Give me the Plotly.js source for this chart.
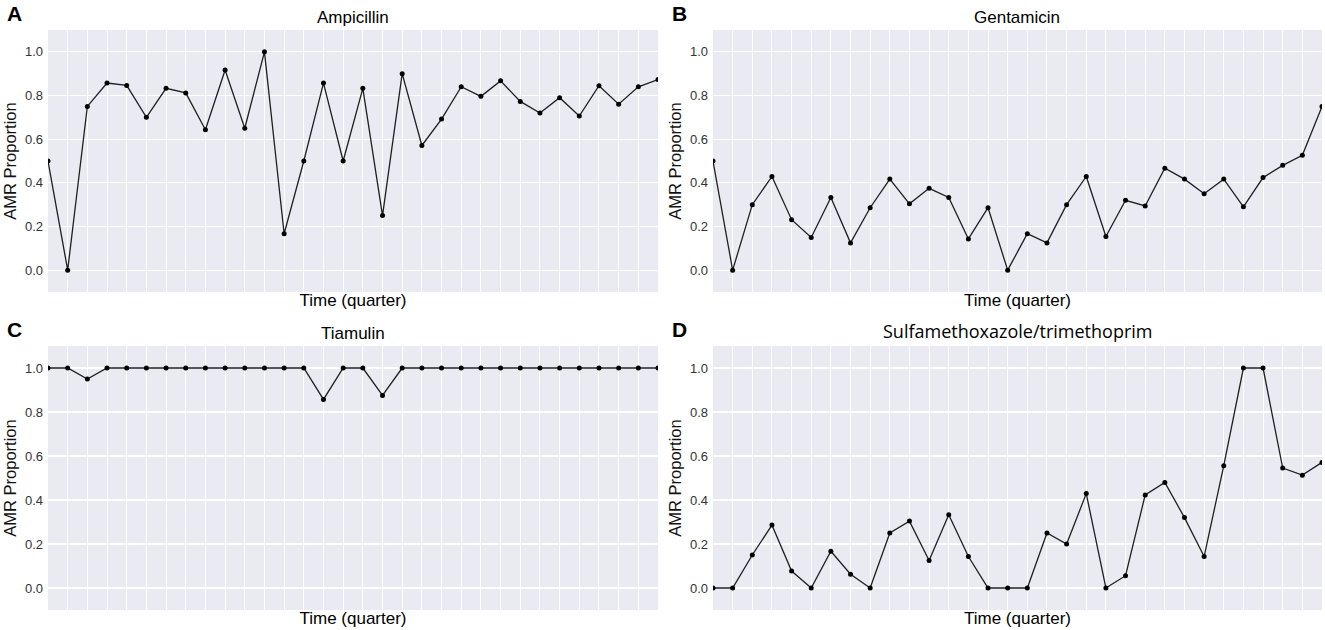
<!DOCTYPE html>
<html>
<head>
<meta charset="utf-8">
<script src="https://cdn.plot.ly/plotly-3.0.1.min.js"></script>
<style>
  html, body { margin: 0; padding: 0; background: #ffffff; }
  #chart { width: 1325px; height: 630px; }
</style>
</head>
<body>
<div id="chart"></div>
<script>
// Quarter index (32 quarters)
var quarters = [0, 1, 2, 3, 4, 5, 6, 7, 8, 9, 10, 11, 12, 13, 14, 15,
                16, 17, 18, 19, 20, 21, 22, 23, 24, 25, 26, 27, 28, 29, 30, 31];

var ampicillin = [0.5, 0.0, 0.75, 0.857, 0.846, 0.7, 0.833, 0.812, 0.643, 0.917,
                  0.65, 1.0, 0.167, 0.5, 0.857, 0.5, 0.833, 0.25, 0.9, 0.571,
                  0.692, 0.84, 0.796, 0.867, 0.773, 0.72, 0.79, 0.706, 0.845, 0.76,
                  0.84, 0.873];

var gentamicin = [0.5, 0.0, 0.3, 0.429, 0.231, 0.15, 0.333, 0.125, 0.286, 0.417,
                  0.304, 0.375, 0.333, 0.143, 0.286, 0.0, 0.167, 0.125, 0.3, 0.429,
                  0.154, 0.32, 0.294, 0.467, 0.417, 0.35, 0.417, 0.29, 0.424, 0.48,
                  0.526, 0.75];

var tiamulin = [1.0, 1.0, 0.95, 1.0, 1.0, 1.0, 1.0, 1.0, 1.0, 1.0,
                1.0, 1.0, 1.0, 1.0, 0.857, 1.0, 1.0, 0.875, 1.0, 1.0,
                1.0, 1.0, 1.0, 1.0, 1.0, 1.0, 1.0, 1.0, 1.0, 1.0,
                1.0, 1.0];

var sulfaTrim = [0.0, 0.0, 0.15, 0.286, 0.077, 0.0, 0.167, 0.0625, 0.0, 0.25,
                 0.304, 0.125, 0.333, 0.143, 0.0, 0.0, 0.0, 0.25, 0.2, 0.429,
                 0.0, 0.056, 0.423, 0.48, 0.32, 0.143, 0.556, 1.0, 1.0, 0.545,
                 0.513, 0.571];

var panelLetters = ['A', 'B', 'C', 'D'];
var panelTitles = ['Ampicillin', 'Gentamicin', 'Tiamulin', 'Sulfamethoxazole/trimethoprim'];
var panelSeries = [ampicillin, gentamicin, tiamulin, sulfaTrim];
var yTicks = [0, 0.2, 0.4, 0.6, 0.8, 1.0];

var W = 1325, H = 630;
// plot areas in pixels [left, right, top, bottom]
var boxes = [
  [48, 658, 30, 292],
  [713, 1322, 30, 292],
  [48, 658, 346, 610],
  [713, 1322, 346, 610]
];

var traces = [];
var layout = {
  width: W,
  height: H,
  margin: { l: 0, r: 0, t: 0, b: 0 },
  paper_bgcolor: '#ffffff',
  plot_bgcolor: '#eaeaf2',
  showlegend: false,
  font: { family: 'Liberation Sans, Arial, sans-serif', color: '#262626' },
  annotations: []
};

panelSeries.forEach(function (vals, i) {
  var n = i + 1;
  var sfx = n === 1 ? '' : String(n);
  var b = boxes[i];
  var xd = [b[0] / W, b[1] / W];
  var yd = [1 - b[3] / H, 1 - b[2] / H];

  traces.push({
    x: quarters,
    y: vals,
    xaxis: 'x' + sfx,
    yaxis: 'y' + sfx,
    type: 'scatter',
    mode: 'lines+markers',
    line: { color: '#1f1f1f', width: 1.3 },
    marker: { color: '#000000', size: 5 },
    hoverinfo: 'x+y'
  });

  layout['xaxis' + sfx] = {
    domain: xd,
    anchor: 'y' + sfx,
    range: [0, 31],
    tick0: 0,
    dtick: 1,
    showticklabels: false,
    ticks: '',
    showgrid: true,
    gridcolor: '#ffffff',
    gridwidth: 1,
    zeroline: false,
    showline: false,
    automargin: false,
    title: {
      text: 'Time (quarter)',
      font: { size: 17, color: '#000000' },
      standoff: 2
    }
  };

  layout['yaxis' + sfx] = {
    domain: yd,
    anchor: 'x' + sfx,
    range: [-0.1, 1.1],
    tickvals: yTicks,
    tickformat: '.1f',
    ticks: '',
    tickfont: { size: 13, color: '#333333' },
    ticklabelstandoff: 4,
    showgrid: true,
    gridcolor: '#ffffff',
    gridwidth: 1.2,
    zeroline: false,
    showline: false,
    automargin: false,
    title: {
      text: 'AMR Proportion',
      font: { size: 16.5, color: '#111111' },
      standoff: 4
    }
  };

  // subplot title
  var isLong = panelTitles[i].length > 15;
  layout.annotations.push({
    text: panelTitles[i],
    xref: 'paper',
    yref: 'paper',
    x: (xd[0] + xd[1]) / 2,
    y: yd[1],
    xanchor: 'center',
    yanchor: 'bottom',
    yshift: 1,
    showarrow: false,
    font: isLong
      ? { family: 'Open Sans, sans-serif', size: 18, color: '#000000' }
      : { size: 17, color: '#000000' }
  });

  // panel letter
  layout.annotations.push({
    text: '<b>' + panelLetters[i] + '</b>',
    xref: 'paper',
    yref: 'paper',
    x: (b[0] - 43) / W,
    y: yd[1],
    xanchor: 'left',
    yanchor: 'bottom',
    yshift: 3,
    showarrow: false,
    font: { size: 21, color: '#000000' }
  });
});

Plotly.newPlot('chart', traces, layout, { displayModeBar: false, staticPlot: true });
</script>
</body>
</html>
